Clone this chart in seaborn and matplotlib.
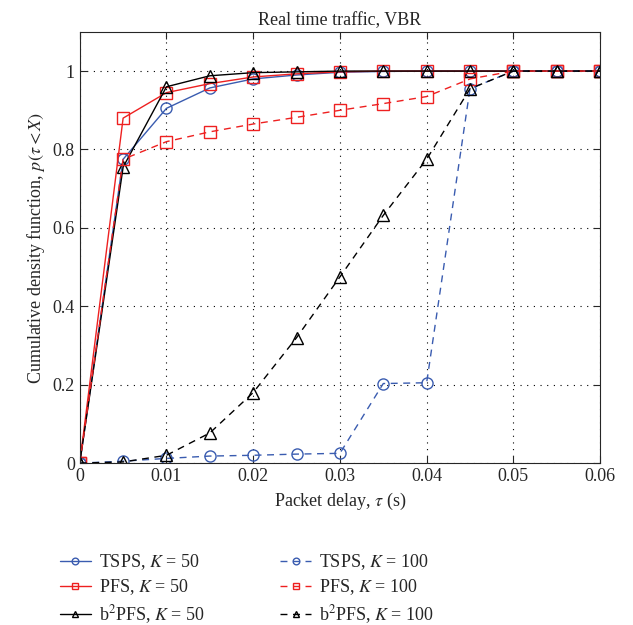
import numpy as np
import pandas as pd
import seaborn as sns
import matplotlib.pyplot as plt

delay = [0, 0.005, 0.01, 0.015, 0.02, 0.025, 0.03, 0.035, 0.04, 0.045, 0.05, 0.055, 0.06]

tsps_50 = [0, 0.775, 0.905, 0.957, 0.980, 0.990, 0.997, 0.999, 1, 1, 1, 1, 1]
pfs_50 = [0, 0.880, 0.945, 0.968, 0.985, 0.993, 0.998, 1, 1, 1, 1, 1, 1]
b2pfs_50 = [0, 0.755, 0.960, 0.988, 0.996, 0.998, 1, 1, 1, 1, 1, 1, 1]
tsps_100 = [0, 0.005, 0.012, 0.018, 0.020, 0.023, 0.025, 0.203, 0.205, 0.955, 1, 1, 1]
pfs_100 = [0, 0.775, 0.820, 0.845, 0.865, 0.882, 0.900, 0.917, 0.935, 0.980, 1, 1, 1]
b2pfs_100 = [0, 0.003, 0.020, 0.077, 0.180, 0.320, 0.475, 0.632, 0.775, 0.955, 1, 1, 1]

labels = [r"TSPS, $K$ = 50", r"PFS, $K$ = 50", r"b$^2$PFS, $K$ = 50",
          r"TSPS, $K$ = 100", r"PFS, $K$ = 100", r"b$^2$PFS, $K$ = 100"]
series = [tsps_50, pfs_50, b2pfs_50, tsps_100, pfs_100, b2pfs_100]

blue = "#3a5cb0"
red = "#ee2020"
colors = [blue, red, "black", blue, red, "black"]
markers = ["o", "s", "^", "o", "s", "^"]
styles = ["-", "-", "-", (0, (5, 4)), (0, (5, 4)), (0, (5, 4))]

sns.set_style("ticks")
plt.rcParams["font.family"] = ["Liberation Serif", "DejaVu Serif"]
plt.rcParams["mathtext.fontset"] = "stix"

fig = plt.figure(figsize=(6.33, 6.25), dpi=100)
ax = fig.add_axes([0.126, 0.259, 0.822, 0.690])

for lab, vals, c, m, ls in zip(labels, series, colors, markers, styles):
    df = pd.DataFrame({"delay": delay, "cdf": vals})
    sns.lineplot(data=df, x="delay", y="cdf", ax=ax, color=c, marker=m,
                 linestyle=ls, linewidth=1.0, markersize=8,
                 markerfacecolor="none", markeredgecolor=c,
                 markeredgewidth=1.0, label=lab)

ax.set_xlim(0, 0.06)
ax.set_ylim(0, 1.1)
ax.set_xticks([0, 0.01, 0.02, 0.03, 0.04, 0.05, 0.06])
ax.set_xticklabels(["0", "0.01", "0.02", "0.03", "0.04", "0.05", "0.06"])
ax.set_yticks([0, 0.2, 0.4, 0.6, 0.8, 1.0])
ax.set_yticklabels(["0", "0.2", "0.4", "0.6", "0.8", "1"])
ax.tick_params(direction="in", top=True, right=True, labelsize=13, length=5)
ax.grid(True, color="black", linestyle=(0, (1, 5)), linewidth=0.8)
for sp in ax.spines.values():
    sp.set_linewidth(0.8)

ax.set_xlabel(r"Packet delay, $\tau$ (s)", fontsize=13)
ax.set_ylabel(r"Cumulative density function, $p(\tau < X)$", fontsize=13)
ax.set_title("Real time traffic, VBR", fontsize=13, pad=5)

handles, labs = ax.get_legend_handles_labels()
ax.get_legend().remove()
fig.legend(handles, labs, ncol=2, loc="upper left",
           bbox_to_anchor=(0.072, 0.14), frameon=False, fontsize=13,
           handlelength=1.7, columnspacing=4.2, labelspacing=0.32,
           handletextpad=0.45, markerscale=0.6, borderpad=0.3)

fig.savefig("out.png", dpi=100)
